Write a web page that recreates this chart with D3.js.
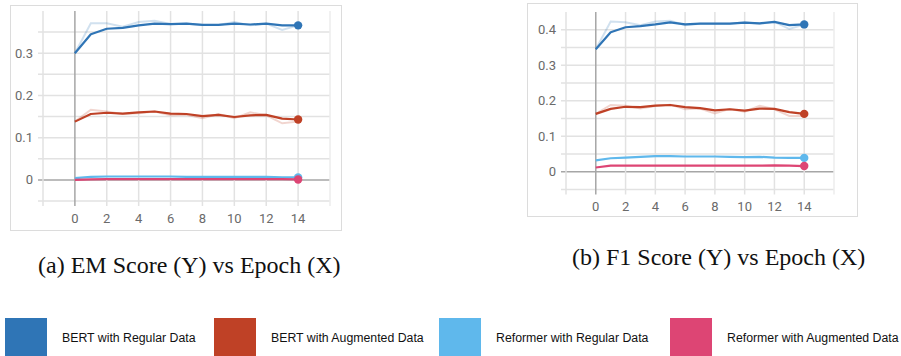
<!DOCTYPE html>
<html>
<head>
<meta charset="utf-8">
<script src="https://cdn.jsdelivr.net/npm/d3@7"></script>
<style>
  body { margin: 0; background: #fff; }
  svg { display: block; }
</style>
</head>
<body>
<svg id="chart" width="901" height="356"></svg>
<script>
var epochs = [0, 1, 2, 3, 4, 5, 6, 7, 8, 9, 10, 11, 12, 13, 14]
var seriesNames = ['BERT with Regular Data', 'BERT with Augmented Data', 'Reformer with Regular Data', 'Reformer with Augmented Data']
var seriesColors = ['#2f75b6', '#bf4126', '#5fb8ec', '#dd4574']
var xTicks = [0, 2, 4, 6, 8, 10, 12, 14]

// EM score, smoothed (dark) and raw (faint)
var emBertReg = [0.300, 0.345, 0.358, 0.360, 0.366, 0.370, 0.369, 0.370, 0.367, 0.367, 0.370, 0.368, 0.370, 0.366, 0.366]
var emBertRegRaw = [0.300, 0.371, 0.371, 0.363, 0.374, 0.377, 0.369, 0.370, 0.367, 0.367, 0.374, 0.366, 0.370, 0.355, 0.366]
var emBertAug = [0.138, 0.156, 0.159, 0.157, 0.160, 0.162, 0.157, 0.156, 0.151, 0.154, 0.149, 0.153, 0.154, 0.145, 0.143]
var emBertAugRaw = [0.138, 0.166, 0.162, 0.156, 0.158, 0.162, 0.153, 0.154, 0.146, 0.156, 0.146, 0.160, 0.153, 0.134, 0.138]
var emRefReg = [0.004, 0.007, 0.008, 0.008, 0.008, 0.008, 0.008, 0.007, 0.007, 0.007, 0.007, 0.007, 0.007, 0.006, 0.006]
var emRefAug = [0.000, 0.001, 0.002, 0.002, 0.002, 0.002, 0.002, 0.002, 0.002, 0.002, 0.002, 0.002, 0.002, 0.002, 0.001]
var emTicks = [0, 0.1, 0.2, 0.3]

// F1 score
var f1BertReg = [0.345, 0.393, 0.407, 0.410, 0.415, 0.421, 0.415, 0.417, 0.417, 0.417, 0.420, 0.418, 0.422, 0.413, 0.415]
var f1BertRegRaw = [0.345, 0.423, 0.421, 0.413, 0.423, 0.425, 0.413, 0.417, 0.417, 0.417, 0.421, 0.417, 0.422, 0.402, 0.415]
var f1BertAug = [0.163, 0.177, 0.183, 0.182, 0.186, 0.188, 0.182, 0.179, 0.173, 0.176, 0.172, 0.178, 0.177, 0.168, 0.163]
var f1BertAugRaw = [0.163, 0.188, 0.186, 0.178, 0.185, 0.189, 0.176, 0.178, 0.164, 0.177, 0.169, 0.186, 0.176, 0.157, 0.157]
var f1RefReg = [0.032, 0.038, 0.040, 0.042, 0.044, 0.044, 0.043, 0.043, 0.043, 0.042, 0.041, 0.042, 0.040, 0.039, 0.039]
var f1RefAug = [0.012, 0.017, 0.017, 0.017, 0.017, 0.017, 0.017, 0.017, 0.017, 0.017, 0.017, 0.017, 0.018, 0.017, 0.016]
var f1Ticks = [0, 0.1, 0.2, 0.3, 0.4]

var svg = d3.select('#chart')

function panel(o){
    var x = d3.scaleLinear().domain([-2, 16]).range([o.left, o.right])
    var y = d3.scaleLinear().domain([-0.05, o.yMax]).range([o.bottom, o.top])
    var g = svg.append('g')

    g.append('rect')
        .attr('x', o.frame[0] + 0.5).attr('y', o.frame[1] + 0.5)
        .attr('width', o.frame[2] - o.frame[0]).attr('height', o.frame[3] - o.frame[1])
        .attr('fill', 'none').attr('stroke', '#dcdcdc')

    // horizontal grid every 0.05
    var hLines = d3.range(-0.05, o.yMax - 0.01, 0.05)
    g.selectAll('.hg').data(hLines).enter().append('line')
        .attr('x1', o.left - 5).attr('x2', o.right)
        .attr('y1', (d)=>y(d)).attr('y2', (d)=>y(d))
        .attr('stroke', (d)=>Math.abs(d) < 1e-9 ? '#a6a6a6' : '#e2e2e2')
        .attr('stroke-width', 1.5)

    // vertical grid every 2 epochs
    g.selectAll('.vg').data(d3.range(-2, 17, 2)).enter().append('line')
        .attr('x1', (d)=>x(d)).attr('x2', (d)=>x(d))
        .attr('y1', o.top).attr('y2', o.bottom + 5)
        .attr('stroke', (d)=>d === 0 ? '#a6a6a6' : (d === 16 ? '#ececec' : '#e2e2e2'))
        .attr('stroke-width', 1.5)

    g.selectAll('.yl').data(o.ticks).enter().append('text')
        .attr('x', o.left - 10).attr('y', (d)=>y(d) + 4.5)
        .attr('text-anchor', 'end')
        .attr('font-family', 'Roboto').attr('font-size', 13).attr('fill', '#6a6a6a')
        .text((d)=>d === 0 ? '0' : d3.format('.1f')(d))

    g.selectAll('.xl').data(xTicks).enter().append('text')
        .attr('x', (d)=>x(d)).attr('y', o.bottom + 21.5)
        .attr('text-anchor', 'middle')
        .attr('font-family', 'Roboto').attr('font-size', 13).attr('fill', '#6a6a6a')
        .text((d)=>d)

    var line = d3.line()
        .x((d, i)=>x(epochs[i]))
        .y((d)=>y(d))

    o.series.forEach(function(s, k){
        if (s.raw) {
            g.append('path').attr('d', line(s.raw))
                .attr('fill', 'none').attr('stroke', seriesColors[k])
                .attr('stroke-opacity', 0.22).attr('stroke-width', 2)
        }
    })
    o.series.forEach(function(s, k){
        g.append('path').attr('d', line(s.smooth))
            .attr('fill', 'none').attr('stroke', seriesColors[k])
            .attr('stroke-width', 2.2).attr('stroke-linejoin', 'round')
        var last = s.smooth.length - 1
        g.append('circle')
            .attr('cx', x(epochs[last])).attr('cy', y(s.smooth[last]))
            .attr('r', 4.2).attr('fill', seriesColors[k])
    })

    svg.append('text')
        .attr('x', o.captionX).attr('y', o.captionY)
        .attr('font-family', 'Liberation Serif').attr('font-size', 24).attr('fill', '#111')
        .text(o.caption)
}

panel({
    frame: [10, 5, 341, 230], left: 43, right: 330, top: 11, bottom: 201, yMax: 0.4,
    ticks: emTicks,
    series: [
        {smooth: emBertReg, raw: emBertRegRaw},
        {smooth: emBertAug, raw: emBertAugRaw},
        {smooth: emRefReg},
        {smooth: emRefAug}
    ],
    caption: '(a) EM Score (Y) vs Epoch (X)', captionX: 38, captionY: 273
})

panel({
    frame: [527, 3, 857, 216], left: 566, right: 834, top: 12, bottom: 189.5, yMax: 0.45,
    ticks: f1Ticks,
    series: [
        {smooth: f1BertReg, raw: f1BertRegRaw},
        {smooth: f1BertAug, raw: f1BertAugRaw},
        {smooth: f1RefReg},
        {smooth: f1RefAug}
    ],
    caption: '(b) F1 Score (Y) vs Epoch (X)', captionX: 572, captionY: 265
})

// legend
var legendX = [5, 214, 439, 670]
var lg = svg.selectAll('.lg').data(seriesNames).enter().append('g')
    .attr('transform', (d, i)=>'translate(' + legendX[i] + ',318)')
lg.append('rect').attr('width', 42).attr('height', 40)
    .attr('fill', (d, i)=>seriesColors[i])
lg.append('text').attr('x', 57).attr('y', 23.5)
    .attr('font-family', 'Liberation Sans').attr('font-size', 12.3).attr('fill', '#111')
    .text((d)=>d)
</script>
</body>
</html>
